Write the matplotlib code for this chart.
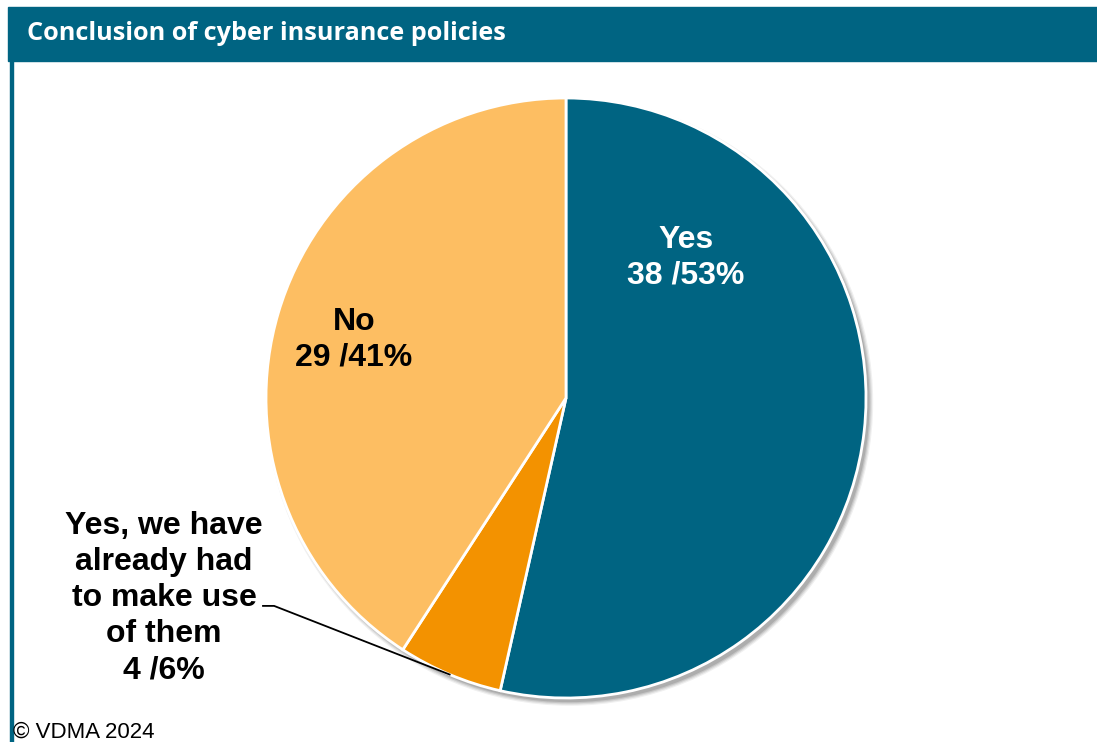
import matplotlib.pyplot as plt
import numpy as np
from matplotlib.patches import Circle, Rectangle

# data
categories = ['Yes', 'Yes, we have\nalready had\nto make use\nof them', 'No']
counts = [38, 4, 29]
shares = [53, 6, 41]
colors = ['#006482', '#F39200', '#FDBE62']
text_colors = ['white', 'black', 'black']

W, H = 1097, 742
fig = plt.figure(figsize=(W / 100, H / 100), dpi=100)

# header band and left border
fig.patches.append(Rectangle((8 / W, 1 - 61 / H), 1 - 8 / W, 54 / H,
                             transform=fig.transFigure, color='#006482', zorder=0))
fig.patches.append(Rectangle((10 / W, 0), 3 / W, 1 - 61 / H,
                             transform=fig.transFigure, color='#006482', zorder=0))
fig.text(27 / W, 1 - 34 / H, 'Conclusion of cyber insurance policies', color='white',
         fontsize=18.2, fontweight='bold', family='Open Sans', va='center', ha='left')
fig.text(13 / W, 1 - 732 / H, '\u00a9 VDMA 2024', fontsize=16, family='Liberation Sans',
         va='center', ha='left')

# pie axes: center at (566, 398) px, radius 300 px
R = 300
L = 1.05
cx, cy = 566, H - 398
ax = fig.add_axes([(cx - L * R) / W, (cy - L * R) / H, 2 * L * R / W, 2 * L * R / H])
ax.set_xlim(-L, L)
ax.set_ylim(-L, L)
ax.set_aspect('equal')
ax.axis('off')

# soft shadow
for i, a in enumerate([0.06, 0.08, 0.10, 0.12]):
    ax.add_patch(Circle((0.012, -0.014), 1.012 - i * 0.004, color='black', alpha=a,
                        lw=0, zorder=0))

wedges, _ = ax.pie(counts, colors=colors, startangle=90, counterclock=False,
                   radius=1.0, wedgeprops=dict(edgecolor='white', linewidth=2))
ax.set_xlim(-L, L)
ax.set_ylim(-L, L)

fs = 23
label_pos = {0: (0.40, 0.467), 2: (-0.707, 0.195)}
for i in (0, 2):
    x, y = label_pos[i]
    ax.text(x, y, f'{categories[i]}\n{counts[i]} /{shares[i]}%', ha='center', va='center',
            color=text_colors[i], fontsize=fs, fontweight='bold', family='Liberation Sans',
            linespacing=1.22)

# small slice label with leader line
w = wedges[1]
mid = np.deg2rad((w.theta1 + w.theta2) / 2)
px, py = np.cos(mid) * 1.0, np.sin(mid) * 1.0
ax.text(-1.34, -0.667, f'{categories[1]}\n{counts[1]} /{shares[1]}%', ha='center',
        va='center', color='black', fontsize=fs, fontweight='bold', family='Liberation Sans',
        linespacing=1.26, clip_on=False)
ax.plot([-1.01, -0.973, px], [-0.693, -0.693, py], color='black', lw=1.3, clip_on=False,
        zorder=5)

fig.savefig('out.png', dpi=100)
